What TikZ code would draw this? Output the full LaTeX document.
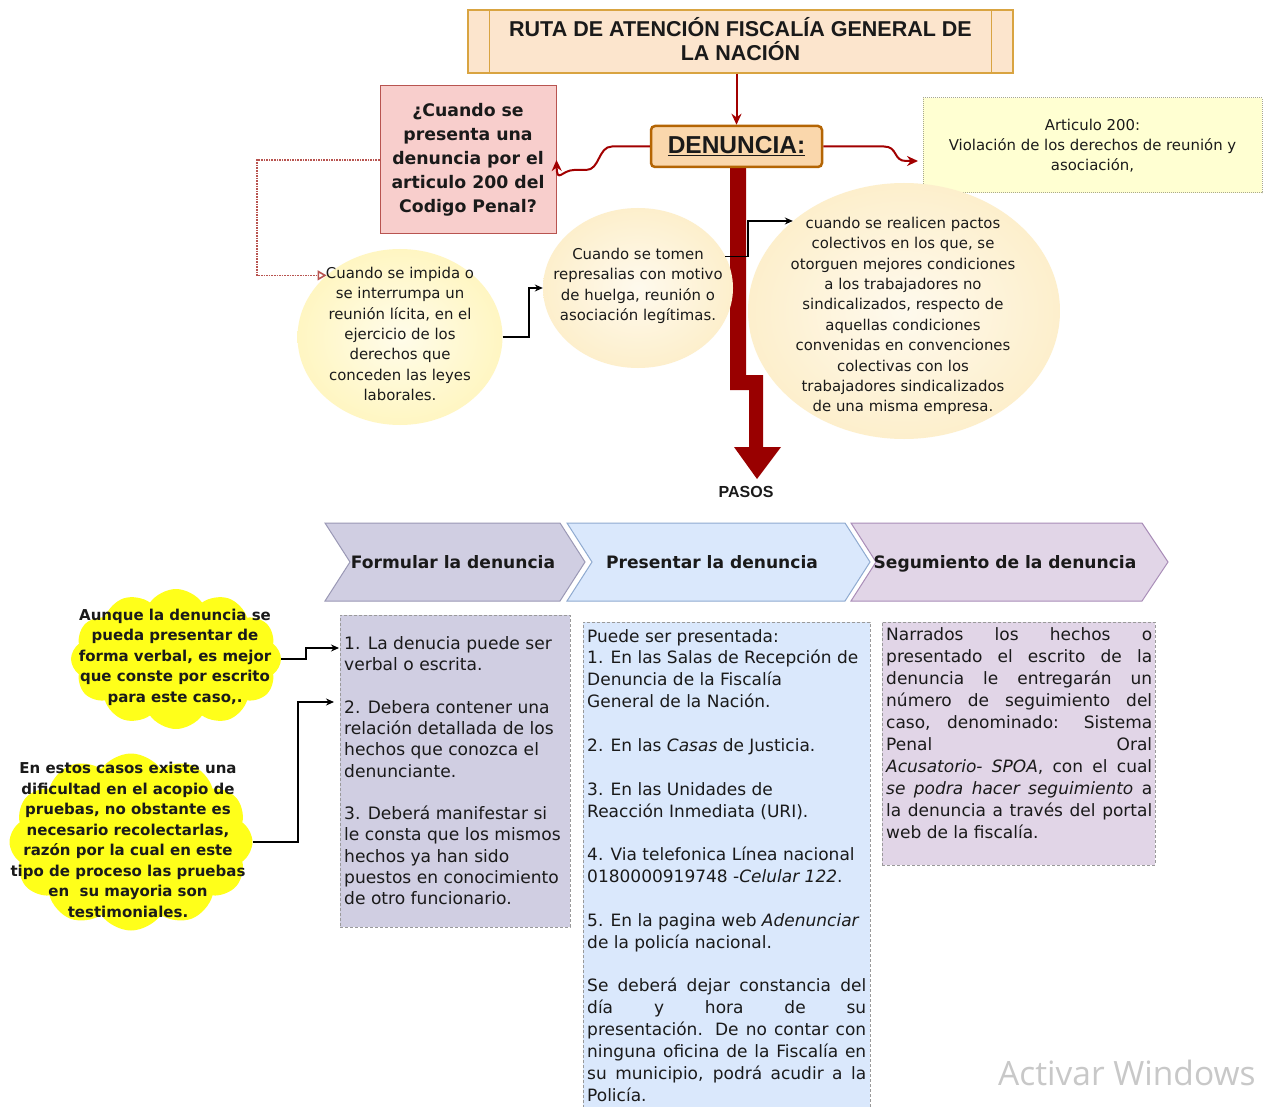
\documentclass[tikz,border=0pt]{standalone}
\usepackage{fontspec}
\setmainfont{DejaVu Sans}
\newfontfamily\arialf{Liberation Sans}
\newfontfamily\wmfont{Open Sans}
\usetikzlibrary{shapes.geometric,shapes.symbols,arrows.meta}
\definecolor{titlefill}{HTML}{FCE5CD}
\definecolor{titledraw}{HTML}{D9A441}
\definecolor{denfill}{HTML}{FAD7AC}
\definecolor{dendraw}{HTML}{B46504}
\definecolor{qfill}{HTML}{F8CECC}
\definecolor{qdraw}{HTML}{B85450}
\definecolor{arrowred}{HTML}{A20000}
\definecolor{barred}{HTML}{990000}
\definecolor{artfill}{HTML}{FFFFD2}
\definecolor{artdraw}{HTML}{A8A890}
\definecolor{ellA}{HTML}{FFF6C2}
\definecolor{ellB}{HTML}{FDEFCC}
\definecolor{chAfill}{HTML}{D0CEE2}
\definecolor{chAdraw}{HTML}{9A98B5}
\definecolor{chBfill}{HTML}{DAE8FC}
\definecolor{chBdraw}{HTML}{8FAAD0}
\definecolor{chCfill}{HTML}{E1D5E7}
\definecolor{chCdraw}{HTML}{A98DB8}
\definecolor{boxdash}{HTML}{9A9A9A}
\definecolor{cloudy}{HTML}{FFFF1A}
\definecolor{wm}{HTML}{C8C8C8}
\definecolor{ink}{HTML}{1A1A1A}
\tikzset{
  titlebox/.style={rectangle, draw=titledraw, fill=titlefill, line width=1.2pt, minimum width=545pt, minimum height=63pt, inner sep=0pt},
  titletext/.style={inner sep=0pt, align=center, font=\arialf\bfseries\fontsize{21.5}{24}\selectfont, text=ink},
  denbox/.style={rectangle, rounded corners=4pt, draw=dendraw, fill=denfill, line width=2.5pt, minimum width=171pt, minimum height=41pt, inner sep=0pt, font=\arialf\bfseries\fontsize{24.5}{26}\selectfont, text=ink},
  qbox/.style={rectangle, draw=qdraw, fill=qfill, line width=1pt, minimum width=176pt, minimum height=148pt, inner sep=0pt, align=center, font=\bfseries\fontsize{17.3}{24}\selectfont, text=ink},
  artbox/.style={rectangle, draw=artdraw, densely dotted, fill=artfill, line width=1pt, minimum width=339pt, minimum height=95pt, inner sep=0pt, align=center, font=\fontsize{14.9}{20}\selectfont, text=ink},
  ellshape/.style={ellipse, draw=none, inner sep=0pt, shading=radial, inner color=#1!35!white, outer color=#1},
  elltext/.style={inner sep=0pt, align=center, font=\fontsize{14.9}{20.4}\selectfont, text=ink},
  conn/.style={-{Stealth[length=8pt,width=7pt]}, line width=1.2pt, black},
  redconn/.style={-{Stealth[length=11pt,width=10pt]}, line width=2pt, arrowred},
  chevtext/.style={inner sep=0pt, anchor=base, font=\bfseries\fontsize{17.1}{20}\selectfont, text=ink},
  boxbg/.style={rectangle, draw=boxdash, dash pattern=on 3pt off 2pt, line width=0.8pt, inner sep=0pt},
  bodytext/.style={inner sep=0pt, anchor=north west, align=left, text=ink},
  cloudshape/.style={cloud, cloud puffs=12, cloud puff arc=110, aspect=1.5, fill=cloudy, draw=none, inner sep=0pt},
  cloudtext/.style={inner sep=0pt, align=center, font=\bfseries\fontsize{15}{20.5}\selectfont, text=ink}
}
\begin{document}
\begin{tikzpicture}[x=1pt,y=-1pt]
\useasboundingbox (0,0) rectangle (1268,1107);
\clip (0,0) rectangle (1268,1107);
\fill[white] (0,0) rectangle (1268,1107);

% title
\node[titlebox] (title) at (740.5,41.5) {};
\node[titletext] (titlet) at (740.5,39) {RUTA DE ATENCIÓN FISCALÍA GENERAL DE\\LA NACIÓN};
\draw[titledraw, line width=1.2pt] ([xshift=22pt]title.north west) -- ([xshift=22pt]title.south west);
\draw[titledraw, line width=1.2pt] ([xshift=-22pt]title.north east) -- ([xshift=-22pt]title.south east);

% big red stepped arrow
\fill[barred] (730,167) -- (746,167) -- (746,375) -- (763,375) -- (763,447) -- (781,447) -- (757,479) -- (734,447) -- (749,447) -- (749,390) -- (730,390) -- cycle;

% DENUNCIA
\node[denbox] (den) at (736.5,146.5) {\underline{DENUNCIA:}};
\draw[redconn] (title.south -| den.north) -- (den.north);

% question box
\node[qbox] (qbox) at (468,160) {¿Cuando se\\presenta una\\denuncia por el\\articulo 200 del\\Codigo Penal?};

% article box
\node[artbox] (art) at (1092.5,145.5) {Articulo 200:\\Violación de los derechos de reunión y\\asociación,};
\coordinate (artin) at (918,161);

% curvy red connectors
\draw[redconn] (den.west) -- (612,146.5) .. controls (598,146.5) and (600,170) .. (586,170) -- (574,170) .. controls (562,170) and (557,184) .. (qbox.east);
\draw[redconn] (den.east) -- (884,146.5) .. controls (898,146.5) and (893,161) .. (906,161) -- (artin);

% ellipses
\node[ellshape=ellA, minimum width=205pt, minimum height=176pt] (e1) at (400,337) {};
\node[elltext] (e1t) at (400,334) {Cuando se impida o\\se interrumpa un\\reunión lícita, en el\\ejercicio de los\\derechos que\\conceden las leyes\\laborales.};
\node[ellshape=ellB, minimum width=190pt, minimum height=160pt] (e2) at (638,288) {};
\node[elltext] (e2t) at (638,286) {Cuando se tomen\\represalias con motivo\\de huelga, reunión o\\asociación legítimas.};
\node[ellshape=ellB, minimum width=312pt, minimum height=256pt] (e3) at (904,311) {};
\node[elltext] (e3t) at (903,316) {cuando se realicen pactos\\colectivos en los que, se\\otorguen mejores condiciones\\a los trabajadores no\\sindicalizados, respecto de\\aquellas condiciones\\convenidas en convenciones\\colectivas con los\\trabajadores sindicalizados\\de una misma empresa.};

% dotted connector
\coordinate (kd) at (257,0);
\draw[qdraw, densely dotted, line width=1.6pt, -{Triangle[open, length=9pt, width=10pt]}] (qbox.west) -- (qbox.west -| kd) |- (e1.140);

% black connectors between ellipses
\draw[conn] (e1.east) -- (529,337) |- (e2.west);
\coordinate (kb) at (748,0);
\draw[conn] (e2.20) -- (e2.20 -| kb) |- (e3.141);

% PASOS
\node[inner sep=0pt, font=\arialf\bfseries\fontsize{16}{18}\selectfont, text=ink] (pasos) at (746,492) {PASOS};

% chevrons
\draw[fill=chAfill, draw=chAdraw, line width=1pt] (325,523) -- (560,523) -- (585,562) -- (560,601) -- (325,601) -- (350,562) -- cycle;
\node[chevtext] (ch1) at (453,568) {Formular la denuncia};
\draw[fill=chBfill, draw=chBdraw, line width=1pt] (567,523) -- (845,523) -- (870,562) -- (845,601) -- (567,601) -- (592,562) -- cycle;
\node[chevtext] (ch2) at (712,568) {Presentar la denuncia};
\draw[fill=chCfill, draw=chCdraw, line width=1pt] (851,523) -- (1142,523) -- (1168,562) -- (1142,601) -- (851,601) -- (876,562) -- cycle;
\node[chevtext] (ch3) at (1005,568) {Segumiento de la denuncia};

% text boxes
\node[boxbg, fill=chAfill, minimum width=230pt, minimum height=312pt] (b1) at (455,771) {};
\node[bodytext, font=\fontsize{17.1}{21.3}\selectfont] (b1t) at (344,636) {1. La denucia puede ser\\verbal o escrita.\\[21.3pt]2. Debera contener una\\relación detallada de los\\hechos que conozca el\\denunciante.\\[21.3pt]3. Deberá manifestar si\\le consta que los mismos\\hechos ya han sido\\puestos en conocimiento\\de otro funcionario.};

\node[boxbg, fill=chBfill, minimum width=287pt, minimum height=493pt] (b2) at (726.5,868.5) {};
\node[bodytext, font=\fontsize{17}{21.86}\selectfont] (b2t) at (587,629) {Puede ser presentada:\\1. En las Salas de Recepción de\\Denuncia de la Fiscalía\\General de la Nación.\\[21.86pt]2. En las \textit{Casas} de Justicia.\\[21.86pt]3. En las Unidades de\\Reacción Inmediata (URI).\\[21.86pt]4. Via telefonica Línea nacional\\0180000919748 -\textit{Celular 122}.\\[21.86pt]5. En la pagina web \textit{Adenunciar}\\de la policía nacional.\\[21.86pt]\makebox[279pt][s]{Se deberá dejar constancia del}\\\makebox[279pt][s]{día y hora de su}\\\makebox[279pt][s]{presentación. De no contar con}\\\makebox[279pt][s]{ninguna oficina de la Fiscalía en}\\\makebox[279pt][s]{su municipio, podrá acudir a la}\\Policía.};

\node[boxbg, fill=chCfill, minimum width=273pt, minimum height=243pt] (b3) at (1018.5,743.5) {};
\node[bodytext, font=\fontsize{17}{22}\selectfont] (b3t) at (886,627) {\makebox[266pt][s]{Narrados los hechos o}\\\makebox[266pt][s]{presentado el escrito de la}\\\makebox[266pt][s]{denuncia le entregarán un}\\\makebox[266pt][s]{número de seguimiento del}\\\makebox[266pt][s]{caso, denominado: Sistema}\\\makebox[266pt][s]{Penal Oral}\\\makebox[266pt][s]{\textit{Acusatorio- SPOA}, con el cual}\\\makebox[266pt][s]{\textit{se podra hacer seguimiento} a}\\\makebox[266pt][s]{la denuncia a través del portal}\\web de la fiscalía.};

% clouds
\node[cloudshape, minimum width=210pt, minimum height=140pt] (c1) at (176,659) {};
\node[cloudtext] (c1t) at (175,657) {Aunque la denuncia se\\pueda presentar de\\forma verbal, es mejor\\que conste por escrito\\para este caso,.};
\node[cloudshape, minimum width=243pt, minimum height=177pt] (c2) at (131,842) {};
\node[cloudtext] (c2t) at (128,840) {En estos casos existe una\\dificultad en el acopio de\\pruebas, no obstante es\\necesario recolectarlas,\\razón por la cual en este\\tipo de proceso las pruebas\\en \ su mayoria son\\testimoniales.};

\coordinate (b1a) at (339,648);
\coordinate (b1b) at (334,702);
\draw[conn] (c1.east) -- (306,659) |- (b1a);
\draw[conn] (c2.east) -- (298,842) |- (b1b);

% watermark
\node[inner sep=0pt, anchor=base west, font=\wmfont\fontsize{33.5}{38}\selectfont, text=wm] (wmark) at (998,1085) {Activar Windows};
\end{tikzpicture}
\end{document}
